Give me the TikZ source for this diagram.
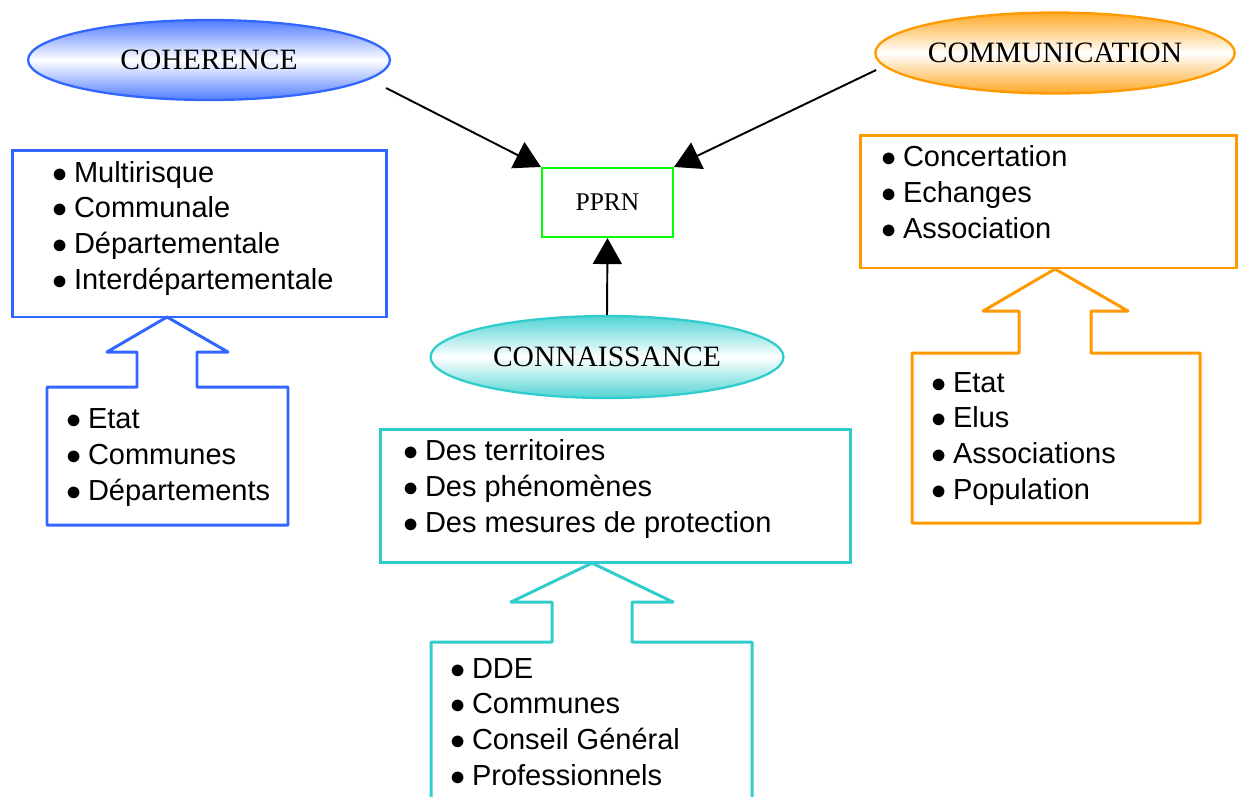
\documentclass[tikz,border=0pt]{standalone}
\usepackage{fontspec}
\setmainfont{Liberation Serif}
\newfontfamily\listfont{Liberation Sans}
\usetikzlibrary{shapes.geometric,arrows.meta}
\definecolor{cohblue}{RGB}{51,102,255}
\definecolor{comorange}{RGB}{255,153,0}
\definecolor{conteal}{RGB}{51,204,204}
\definecolor{pprngreen}{RGB}{0,255,0}
\newcommand\itm[1]{$\bullet$\hspace{0.12cm}#1}
\tikzset{
  theme/.style={ellipse,draw=#1,line width=1.3pt,top color=#1!85,bottom color=#1!85,middle color=white,
    minimum width=7.1cm,minimum height=1.6cm,inner sep=0pt,font=\fontsize{16.8}{20}\selectfont},
  listbox/.style={draw=#1,line width=1.7pt,inner sep=0pt},
  callout/.style={draw=#1,line width=1.7pt,line join=round},
  liste/.style={anchor=base west,align=left,inner sep=0pt,font=\listfont\fontsize{16.5}{20.3}\selectfont},
  conn/.style={line width=1.1pt,-{Triangle[length=0.52cm,width=0.58cm]}}
}
\begin{document}
\begin{tikzpicture}[x=0.02cm,y=-0.02cm]
	\useasboundingbox (0,0) rectangle (1239,796);
	% the three themes and the plan
	\node[theme=cohblue,minimum width=7.24cm] (coh) at (209,60) {COHERENCE};
	\node[theme=comorange,minimum height=1.62cm] (com) at (1055,53) {COMMUNICATION};
	\node[theme=conteal,minimum width=7.06cm,minimum height=1.64cm] (con) at (607,357) {CONNAISSANCE};
	\node[draw=pprngreen,line width=1.2pt,minimum width=2.62cm,minimum height=1.38cm,
		font=\fontsize{14.5}{16}\selectfont] (pprn) at (607.5,202.5) {PPRN};
	\draw[conn] ([shift={(-5,28)}]coh.east) -- (pprn.north west);
	\draw[conn] ([shift={(2,17)}]com.west) -- (pprn.north east);
	\draw[conn] (con.north) -- (pprn.south);
	% boxes
	\node[listbox=cohblue,minimum width=7.5cm,minimum height=3.34cm] (cohbox) at (199.5,233.5) {};
	\node[listbox=conteal,minimum width=9.42cm,minimum height=2.66cm] (conbox) at (615.5,495.5) {};
	\node[listbox=comorange,minimum width=7.54cm,minimum height=2.66cm] (combox) at (1048.5,201.5) {};
	% callouts
	\draw[callout=cohblue] (137,387) -- (137,352) -- (107,352) -- (167,317) -- (228,352) -- (197,352)
		-- (197,387) -- (288,387) -- (288,525) -- (47,525) -- (47,387) -- cycle;
	\draw[callout=conteal] (431,800) -- (431,642) -- (552,642) -- (552,602) -- (511,602) -- (592,563)
		-- (673,602) -- (632,602) -- (632,642) -- (752,642) -- (752,800);
	\draw[callout=comorange] (1019,353) -- (1019,311) -- (983,311) -- (1055,269) -- (1128,311) -- (1091,311)
		-- (1091,353) -- (1200,353) -- (1200,523) -- (912,523) -- (912,353) -- cycle;
	% lists (placed at the baseline of their last line)
	\node[liste] (cohlist) at (52.5,289) {\itm{Multirisque}\\\itm{Communale}\\\itm{Départementale}\\\itm{Interdépartementale}};
	\node[liste] (cohsrc) at (66.5,500) {\itm{Etat}\\\itm{Communes}\\\itm{Départements}};
	\node[liste] (conlist) at (403.5,532) {\itm{Des territoires}\\\itm{Des phénomènes}\\\itm{Des mesures de protection}};
	\node[liste] (consrc) at (450.5,785) {\itm{DDE}\\\itm{Communes}\\\itm{Conseil Général}\\\itm{Professionnels}};
	\node[liste] (comlist) at (881.5,238) {\itm{Concertation}\\\itm{Echanges}\\\itm{Association}};
	\node[liste] (comsrc) at (931.5,499) {\itm{Etat}\\\itm{Elus}\\\itm{Associations}\\\itm{Population}};
\end{tikzpicture}
\end{document}
